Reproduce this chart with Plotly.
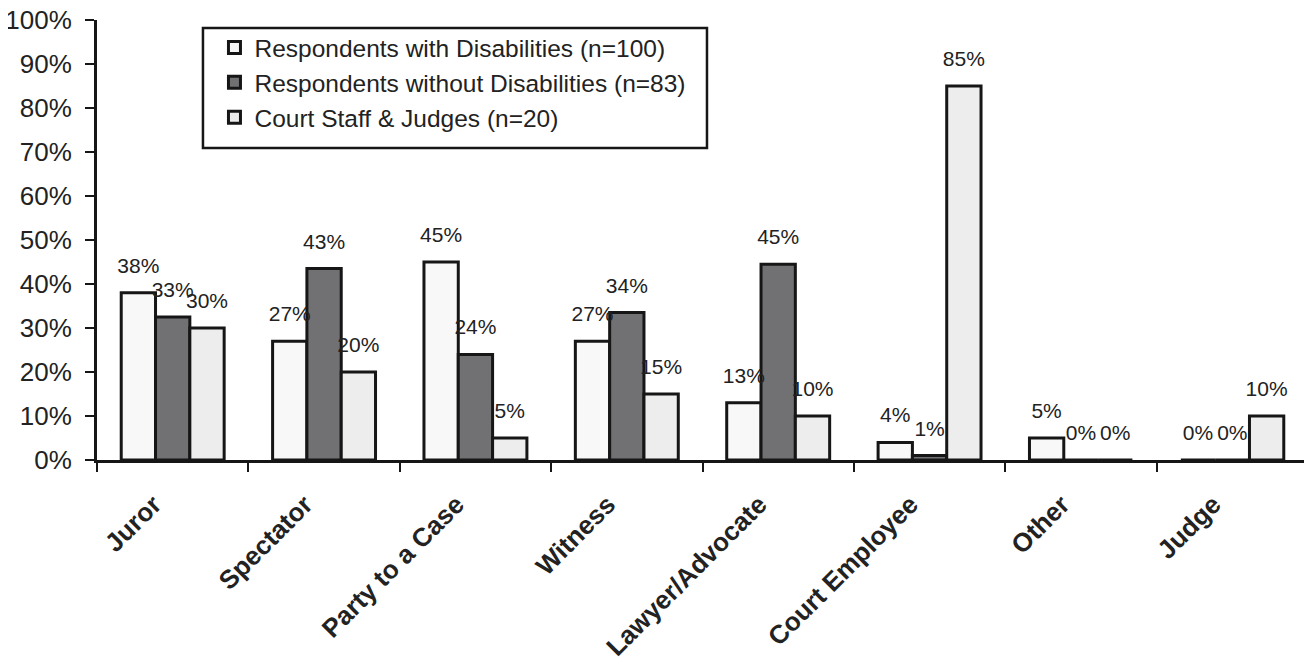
import plotly.graph_objects as go

categories = ["Juror", "Spectator", "Party to a Case", "Witness", "Lawyer/Advocate",
              "Court Employee", "Other", "Judge"]
series_names = ["Respondents with Disabilities (n=100)",
                "Respondents without Disabilities (n=83)",
                "Court Staff & Judges (n=20)"]
with_disab = [0.38, 0.27, 0.45, 0.27, 0.13, 0.04, 0.05, 0.00]
without_disab = [0.325, 0.435, 0.24, 0.335, 0.445, 0.01, 0.00, 0.00]
staff_judges = [0.30, 0.20, 0.05, 0.15, 0.10, 0.85, 0.00, 0.10]
label_with = ["38%", "27%", "45%", "27%", "13%", "4%", "5%", "0%"]
label_without = ["33%", "43%", "24%", "34%", "45%", "1%", "0%", "0%"]
label_staff = ["30%", "20%", "5%", "15%", "10%", "85%", "0%", "10%"]
y_ticks = [0, 0.1, 0.2, 0.3, 0.4, 0.5, 0.6, 0.7, 0.8, 0.9, 1.0]

values = [with_disab, without_disab, staff_judges]
labels = [label_with, label_without, label_staff]
fills = ["#f8f8f8", "#717174", "#ededed"]
FONT = "Liberation Sans, Arial, sans-serif"
TXT = "#222222"
EDGE = "#161616"

fig = go.Figure()
for i in range(3):
    fig.add_trace(go.Bar(
        x=categories, y=values[i], name=series_names[i],
        marker=dict(color=fills[i], line=dict(color=EDGE, width=3)),
        offsetgroup=str(i), legendgroup=str(i), hoverinfo="skip",
    ))
for i in range(3):
    fig.add_trace(go.Scatter(
        x=categories, y=values[i], mode="markers+text", text=labels[i],
        textposition="top center", offsetgroup=str(i), showlegend=False,
        marker=dict(size=22, opacity=0), cliponaxis=False,
        textfont=dict(family=FONT, size=21, color=TXT), hoverinfo="skip",
    ))

# legend frame
fig.add_shape(type="rect", xref="paper", yref="paper",
              x0=0.0875, x1=0.5037, y0=0.709, y1=0.982,
              line=dict(color=EDGE, width=2.5), fillcolor="white", layer="below")

fig.update_layout(
    width=1312, height=660,
    margin=dict(l=89, r=12, t=12, b=208, autoexpand=False),
    paper_bgcolor="white", plot_bgcolor="white",
    barmode="group", bargap=0.32, bargroupgap=0,
    scattermode="group", scattergap=0.32,
    font=dict(family=FONT, color=TXT),
    legend=dict(
        x=0.097, y=0.9886, xanchor="left", yanchor="top",
        borderwidth=0, bgcolor="rgba(0,0,0,0)",
        font=dict(family=FONT, size=24.5, color=TXT),
        tracegroupgap=10, traceorder="normal",
    ),
    xaxis=dict(
        type="category", tickson="boundaries", ticks="outside", ticklen=9,
        tickwidth=2, tickcolor=EDGE, showline=True, linecolor=EDGE,
        linewidth=3, tickangle=-45, showgrid=False, automargin=False,
        ticklabelstandoff=16, ticklabelshift=-19, ticklabeloverflow="allow",
        tickfont=dict(family=FONT, size=26, color=TXT, weight="bold"),
    ),
    yaxis=dict(
        range=[0, 1], tickvals=y_ticks, tickformat=".0%", ticks="outside",
        ticklen=9, tickwidth=2, tickcolor=EDGE, showline=True,
        linecolor=EDGE, linewidth=3, showgrid=False, zeroline=False,
        automargin=False, ticklabelstandoff=8, ticklabeloverflow="allow",
        tickfont=dict(family=FONT, size=26, color=TXT),
    ),
)

fig.write_html("out.html")
